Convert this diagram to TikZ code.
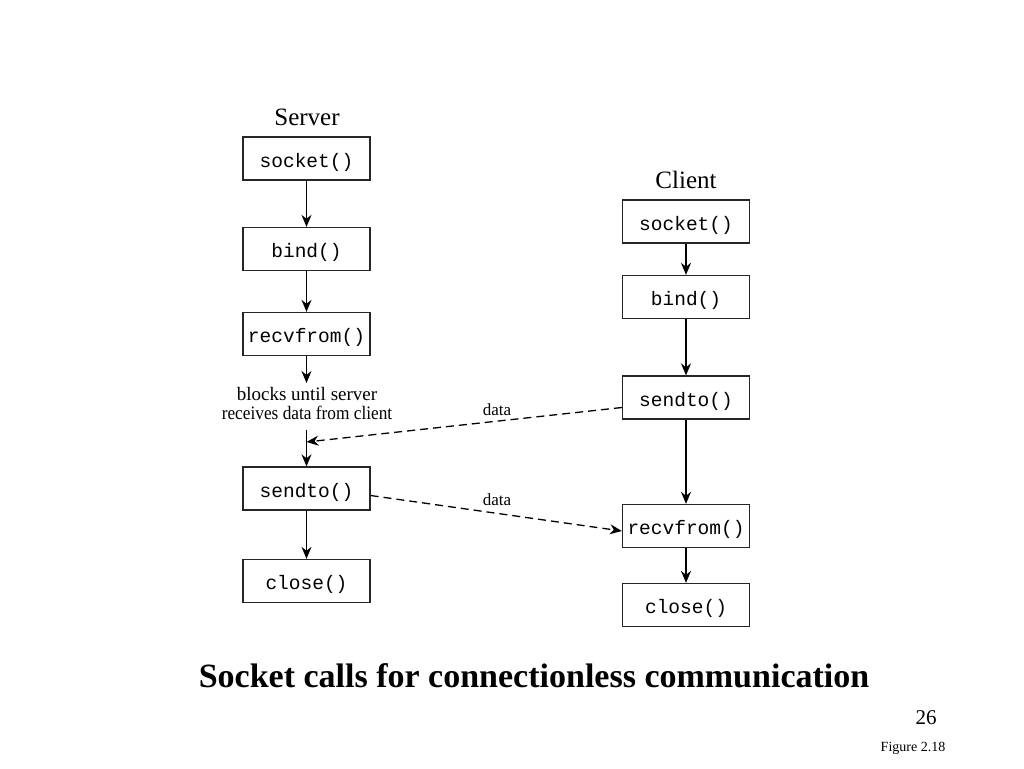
\documentclass[tikz,border=0pt]{standalone}
\usepackage{fontspec}
\setmainfont{Liberation Serif}
\setmonofont{Liberation Mono}
\usetikzlibrary{arrows.meta}
\begin{document}
\begin{tikzpicture}[x=1pt,y=-1pt,
  fbox/.style={draw=black!85, line width=1.3pt, minimum width=127pt, minimum height=43pt, inner sep=0pt, text height=17pt, text depth=0pt, font=\fontsize{19.5}{21}\selectfont\ttfamily},
  flow/.style={line width=1.4pt, -{Stealth[length=12pt,width=10pt]}},
  msg/.style={line width=1.3pt, dash pattern=on 8pt off 5pt, -{Stealth[length=12pt,width=10pt]}},
  head/.style={font=\fontsize{25}{28}\selectfont},
  note/.style={font=\fontsize{19}{21}\selectfont, align=center},
  lbl/.style={font=\fontsize{17}{19}\selectfont}]
\useasboundingbox (0,0) rectangle (1024,768);
% Server
\node[head] (shead) at (307,117) {Server};
\node[fbox] (ssock) at (306.5,158.5) {socket()};
\node[fbox] (sbind) at (306.5,249) {bind()};
\node[fbox] (srecv) at (306.5,334) {recvfrom()};
\node[note] (sblock) at (307,403) {blocks until server\\[-2pt]\scalebox{0.91}[1]{receives data from client}};
\coordinate (sbtop) at (306.5,383);
\coordinate (sbbot) at (306.5,430);
\coordinate (smid) at (306.5,442);
\node[fbox] (ssend) at (306.5,488.5) {sendto()};
\node[fbox] (sclose) at (306.5,581) {close()};
% Client
\node[head] (chead) at (686,180) {Client};
\node[fbox] (csock) at (686,221.5) {socket()};
\node[fbox] (cbind) at (686,297) {bind()};
\node[fbox] (csend) at (686,397.5) {sendto()};
\node[fbox] (crecv) at (686,526) {recvfrom()};
\node[fbox] (cclose) at (686,605) {close()};
% server flow
\draw[flow] (ssock) -- (sbind);
\draw[flow] (sbind) -- (srecv);
\draw[flow] (srecv) -- (sbtop);
\draw[flow] (sbbot) -- (ssend);
\draw[flow] (ssend) -- (sclose);
% client flow
\draw[flow] (csock) -- (cbind);
\draw[flow] (cbind) -- (csend);
\draw[flow] (csend) -- (crecv);
\draw[flow] (crecv) -- (cclose);
% messages
\draw[msg] ([yshift=-10pt]csend.west) -- (smid);
\draw[msg] ([yshift=-7pt]ssend.east) -- ([yshift=-5pt]crecv.west);
\node[lbl] (d1) at (497,410) {data};
\node[lbl] (d2) at (497,500) {data};
% captions
\node[font=\fontsize{34}{38}\selectfont\bfseries] (title) at (534,676) {Socket calls for connectionless communication};
\node[font=\fontsize{21}{24}\selectfont] (page) at (926,718) {26};
\node[font=\fontsize{14}{16}\selectfont] (fig) at (913,748) {Figure 2.18};
\end{tikzpicture}
\end{document}
